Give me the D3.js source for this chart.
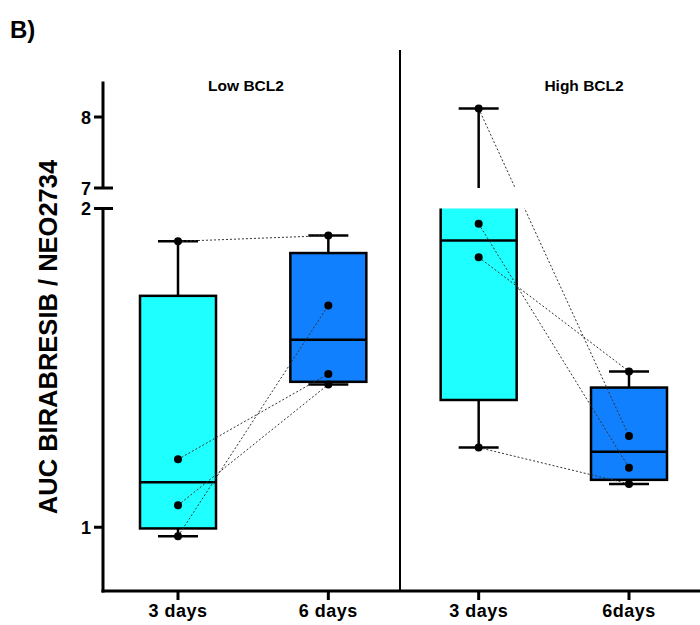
<!DOCTYPE html>
<meta charset="utf-8">
<body style="margin:0;background:#fff">
<svg id="chart"></svg>
<script src="https://d3js.org/d3.v7.min.js"></script>
<script>
// values (AUC ratio per sample, 4 samples per group)
var panels = ["Low BCL2", "High BCL2"];
var groups = ["3 days", "6 days", "3 days", "6days"];
var low3 = [1.897, 1.213, 1.069, 0.972];
var low6 = [1.915, 1.481, 1.448, 1.696];
var high3 = [8.12, 1.847, 1.250, 1.952];
var high6 = [1.286, 1.489, 1.136, 1.187];
var lowTicks = [1, 2];
var highTicks = [7, 8];

var width = 700, height = 625;
var svg = d3.select("#chart").attr("width", width).attr("height", height)
  .style("font-family", "'Liberation Sans', Arial, sans-serif");

var x = d3.scalePoint().domain(d3.range(groups.length)).range([178, 629]);
var yLow = d3.scaleLinear().domain([0.8, 2]).range([591, 208.5]);
var yHigh = d3.scaleLinear().domain([7, 8.5]).range([188, 81.5]);
function y(v) { return v <= 2 ? yLow(v) : yHigh(v); }

var axisX = 103, right = 700;

// clip regions, one per y segment
var defs = svg.append("defs");
defs.append("clipPath").attr("id", "clipLow").append("rect")
  .attr("x", axisX).attr("y", yLow.range()[1]).attr("width", right - axisX).attr("height", yLow.range()[0] - yLow.range()[1]);
defs.append("clipPath").attr("id", "clipHigh").append("rect")
  .attr("x", axisX).attr("y", yHigh.range()[1] - 5).attr("width", right - axisX).attr("height", yHigh.range()[0] - yHigh.range()[1] + 5);

// GraphPad style quartiles
function quart(arr) {
  var s = arr.slice().sort(d3.ascending), n = s.length;
  function q(p) {
    var pos = (n + 1) * p - 1, lo = Math.floor(pos), f = pos - lo;
    if (lo < 0) return s[0];
    if (lo >= n - 1) return s[n - 1];
    return s[lo] + f * (s[lo + 1] - s[lo]);
  }
  return { min: s[0], q1: q(0.25), med: q(0.5), q3: q(0.75), max: s[n - 1] };
}

var series = [low3, low6, high3, high6];
var fills = ["#1effff", "#1180ff", "#1effff", "#1180ff"];
var boxW = 76, capW = 40;

[["clipLow", yLow], ["clipHigh", yHigh]].forEach(function (seg) {
  var sc = seg[1];
  var g = svg.append("g").attr("clip-path", "url(#" + seg[0] + ")");
  series.forEach(function (vals, i) {
    var s = quart(vals), cx = x(i);
    g.append("line").attr("x1", cx).attr("x2", cx).attr("y1", sc(s.q3)).attr("y2", sc(s.max))
      .attr("stroke", "#000").attr("stroke-width", 2.5);
    g.append("line").attr("x1", cx).attr("x2", cx).attr("y1", sc(s.q1)).attr("y2", sc(s.min))
      .attr("stroke", "#000").attr("stroke-width", 2.5);
    [s.max, s.min].forEach(function (v) {
      g.append("line").attr("x1", cx - capW / 2).attr("x2", cx + capW / 2).attr("y1", sc(v)).attr("y2", sc(v))
        .attr("stroke", "#000").attr("stroke-width", 2.5);
    });
    g.append("rect").attr("x", cx - boxW / 2).attr("width", boxW)
      .attr("y", sc(s.q3)).attr("height", sc(s.q1) - sc(s.q3))
      .attr("fill", fills[i]).attr("stroke", "#000").attr("stroke-width", 2.5);
    g.append("line").attr("x1", cx - boxW / 2).attr("x2", cx + boxW / 2).attr("y1", sc(s.med)).attr("y2", sc(s.med))
      .attr("stroke", "#000").attr("stroke-width", 2.5);
  });
});

// paired dotted lines (sample k in 3 days -> sample k in 6 days)
var pairs = [[low3, low6, 0, 1], [high3, high6, 2, 3]];
["clipLow", "clipHigh"].forEach(function (cid) {
  var g = svg.append("g").attr("clip-path", "url(#" + cid + ")");
  pairs.forEach(function (p) {
    p[0].forEach(function (v, k) {
      g.append("line")
        .attr("x1", x(p[2])).attr("y1", y(v))
        .attr("x2", x(p[3])).attr("y2", y(p[1][k]))
        .attr("stroke", "#333").attr("stroke-width", 1).attr("stroke-dasharray", "2,2");
    });
  });
});

// points
series.forEach(function (vals, i) {
  svg.append("g").selectAll("circle").data(vals).enter().append("circle")
    .attr("cx", x(i)).attr("cy", function (d) { return y(d); }).attr("r", 4).attr("fill", "#000");
});

// axes
var ax = svg.append("g").attr("stroke", "#000").attr("stroke-width", 3).attr("fill", "none");
ax.append("line").attr("x1", axisX).attr("x2", axisX).attr("y1", yHigh.range()[1]).attr("y2", yHigh.range()[0]);
ax.append("line").attr("x1", axisX).attr("x2", axisX).attr("y1", yLow.range()[1]).attr("y2", yLow.range()[0] + 1.5);
ax.append("line").attr("x1", axisX - 1.5).attr("x2", right).attr("y1", 591).attr("y2", 591);
// break caps
ax.append("line").attr("x1", axisX - 9).attr("x2", axisX + 10).attr("y1", yHigh(7)).attr("y2", yHigh(7));
ax.append("line").attr("x1", axisX - 9).attr("x2", axisX + 10).attr("y1", yLow(2)).attr("y2", yLow(2));
[yHigh(8), yLow(1)].forEach(function (py) {
  ax.append("line").attr("x1", axisX - 9).attr("x2", axisX).attr("y1", py).attr("y2", py);
});
groups.forEach(function (g, i) {
  ax.append("line").attr("x1", x(i)).attr("x2", x(i)).attr("y1", 591).attr("y2", 600);
});
// panel divider
svg.append("line").attr("x1", 400).attr("x2", 400).attr("y1", 50).attr("y2", 591)
  .attr("stroke", "#000").attr("stroke-width", 2);

// tick labels
var tl = svg.append("g").attr("font-size", 18).attr("font-weight", "bold").attr("text-anchor", "end");
highTicks.forEach(function (t) {
  tl.append("text").attr("x", axisX - 12).attr("y", yHigh(t) + 6.5).text(t);
});
lowTicks.forEach(function (t) {
  tl.append("text").attr("x", axisX - 12).attr("y", yLow(t) + 6.5).text(t);
});
svg.append("g").selectAll("text").data(groups).enter().append("text")
  .attr("x", function (d, i) { return x(i); }).attr("y", 617)
  .attr("text-anchor", "middle").attr("font-size", 18).attr("font-weight", "bold")
  .attr("letter-spacing", 0.5).text(function (d) { return d; });

// panel titles
svg.selectAll(".ptitle").data(panels).enter().append("text")
  .attr("x", function (d, i) { return i ? 584 : 246; }).attr("y", 91)
  .attr("text-anchor", "middle").attr("font-size", 15.5).attr("font-weight", "bold").text(function (d) { return d; });

// y label
svg.append("text").attr("transform", "translate(57,337) rotate(-90)")
  .attr("text-anchor", "middle").attr("font-size", 25.5).attr("font-weight", "bold")
  .text("AUC BIRABRESIB / NEO2734");

svg.append("text").attr("x", 10).attr("y", 38).attr("font-size", 24).attr("font-weight", "bold").text("B)");
</script>
</body>
